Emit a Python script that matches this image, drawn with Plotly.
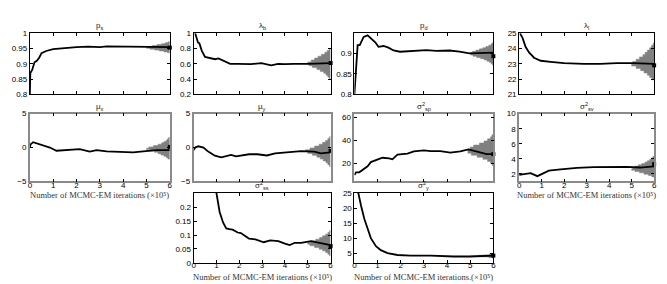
import numpy as np
import plotly.graph_objects as go

# ---------------- data ----------------
names = ["ps", "lb", "pd", "ll", "mux", "muy", "ssp", "ssv", "sss", "sy"]
titles = ["p<sub>s</sub>", "λ<sub>b</sub>", "p<sub>d</sub>", "λ<sub>l</sub>",
          "μ<sub>x</sub>", "μ<sub>y</sub>", "σ<sup>2</sup><sub>sp</sub>", "σ<sup>2</sup><sub>sv</sub>",
          "σ<sup>2</sup><sub>ss</sub>", "σ<sup>2</sup><sub>y</sub>"]

ps_x = [0, 0.02, 0.1, 0.2, 0.3, 0.4, 0.5, 0.7, 1.0, 1.5, 2.0, 2.5, 3.0, 3.3, 4.0, 4.5, 5.0, 5.5, 6.0]
ps_y = [0.80, 0.87, 0.88, 0.905, 0.91, 0.92, 0.935, 0.942, 0.948, 0.952, 0.955, 0.956, 0.955, 0.957, 0.956, 0.956, 0.956, 0.956, 0.955]

lb_x = [0.07, 0.19, 0.25, 0.36, 0.5, 0.72, 0.94, 1.09, 1.3, 1.6, 1.96, 2.5, 2.97, 3.4, 3.7, 4.0, 4.4, 5.0, 6.0]
lb_y = [1.0, 0.88, 0.87, 0.77, 0.69, 0.67, 0.66, 0.67, 0.64, 0.60, 0.60, 0.595, 0.61, 0.58, 0.60, 0.595, 0.60, 0.60, 0.61]

pd_x = [0, 0.14, 0.23, 0.4, 0.57, 0.76, 0.9, 1.04, 1.26, 1.47, 1.69, 1.97, 2.26, 2.69, 3.11, 3.54, 4.11, 4.54, 4.97, 6.0]
pd_y = [0.80, 0.92, 0.92, 0.94, 0.944, 0.935, 0.927, 0.916, 0.918, 0.914, 0.907, 0.904, 0.905, 0.906, 0.908, 0.906, 0.907, 0.904, 0.900, 0.902]

ll_x = [0.04, 0.15, 0.29, 0.44, 0.66, 0.96, 1.4, 1.99, 2.87, 3.6, 4.34, 5.07, 6.0]
ll_y = [25.0, 24.7, 24.1, 23.75, 23.4, 23.2, 23.13, 23.04, 23.0, 23.0, 23.05, 23.05, 23.0]

mux_x = [0, 0.03, 0.14, 0.29, 0.57, 0.86, 1.14, 1.43, 1.86, 2.14, 2.57, 2.86, 3.29, 3.86, 4.43, 4.86, 5.43, 6.0]
mux_y = [0.0, 0.47, 0.8, 0.62, 0.33, 0.0, -0.47, -0.38, -0.33, -0.24, -0.6, -0.38, -0.57, -0.6, -0.7, -0.57, -0.38, -0.38]

muy_x = [0, 0.07, 0.21, 0.43, 0.64, 0.93, 1.21, 1.43, 1.64, 1.86, 2.14, 2.43, 2.79, 3.21, 3.57, 4.14, 4.71, 5.29, 5.57, 6.0]
muy_y = [-0.38, 0.0, 0.19, 0.0, -0.6, -1.2, -1.45, -1.3, -1.08, -1.3, -1.1, -0.99, -0.99, -1.17, -0.85, -0.7, -0.52, -0.6, -0.85, -0.7]

ssp_x = [0, 0.07, 0.21, 0.36, 0.57, 0.71, 1.0, 1.21, 1.5, 1.64, 1.86, 2.29, 2.57, 3.0, 3.29, 3.71, 4.14, 4.57, 4.93, 5.29, 5.71, 6.0]
ssp_y = [9.6, 12, 12, 14, 17.3, 21, 22.8, 24.8, 24.2, 23.4, 27.5, 28.4, 30.4, 31.2, 30.7, 30.7, 29.3, 30.4, 32.1, 29.9, 28, 28]

ssv_x = [0, 0.22, 0.51, 0.81, 1.03, 1.32, 1.84, 2.57, 3.31, 4.04, 4.78, 5.37, 6.0]
ssv_y = [1.87, 2.0, 2.1, 1.7, 2.0, 2.43, 2.6, 2.8, 2.9, 2.94, 2.94, 2.85, 3.0]

sss_x = [0.9, 1.0, 1.14, 1.29, 1.43, 1.57, 1.71, 1.93, 2.07, 2.29, 2.43, 2.71, 3.07, 3.36, 3.71, 4.0, 4.21, 4.43, 4.71, 5.14, 5.57, 6.0]
sss_y = [0.30, 0.25, 0.183, 0.145, 0.124, 0.121, 0.119, 0.109, 0.107, 0.095, 0.087, 0.084, 0.074, 0.081, 0.078, 0.069, 0.064, 0.072, 0.072, 0.078, 0.072, 0.064]

sy_x = [0, 0.17, 0.29, 0.43, 0.57, 0.71, 0.93, 1.14, 1.43, 1.86, 2.43, 3.29, 4.29, 5.0, 6.0]
sy_y = [35, 25, 20.7, 16.4, 13.2, 10, 7.3, 6.0, 5.0, 4.4, 4.2, 4.2, 3.9, 3.9, 4.2]

# end-point estimates (marker at x = 6)
end_vals = [0.953, 0.61, 0.893, 22.9, 0.1, -0.47, 28, 3.3, 0.06, 4.2]

# posterior histograms: lowest bin edge, bin width, relative bar lengths
hist_lo = [0.936, 0.40, 0.872, 21.95, -1.7, -2.8, 18.0, 1.6, 0.025, 3.4]
hist_w = [0.003, 0.025, 0.003, 0.15, 0.2, 0.275, 1.8, 0.18, 0.006, 0.1]
hist_len = [
    [0.1, 0.25, 0.45, 0.65, 0.85, 1.0, 0.95, 0.75, 0.55, 0.35, 0.2, 0.08],
    [0.05, 0.12, 0.2, 0.3, 0.45, 0.6, 0.8, 0.95, 1.0, 0.85, 0.7, 0.55, 0.4, 0.25, 0.15, 0.06],
    [0.05, 0.1, 0.18, 0.28, 0.4, 0.55, 0.72, 0.88, 0.98, 1.0, 0.9, 0.75, 0.6, 0.45, 0.32, 0.2, 0.1, 0.05],
    [0.1, 0.2, 0.3, 0.45, 0.6, 0.8, 1.0, 0.95, 0.8, 0.65, 0.5, 0.4, 0.3, 0.2, 0.12, 0.05],
    [0.08, 0.15, 0.25, 0.38, 0.5, 0.65, 0.85, 1.0, 0.9, 0.7, 0.5, 0.35, 0.25, 0.15, 0.1, 0.05],
    [0.05, 0.12, 0.2, 0.32, 0.45, 0.6, 0.8, 1.0, 1.1, 0.9, 0.7, 0.5, 0.35, 0.22, 0.12, 0.05],
    [0.05, 0.12, 0.25, 0.45, 0.7, 0.95, 1.1, 1.1, 1.0, 0.85, 0.6, 0.4, 0.25, 0.12, 0.06],
    [0.1, 0.25, 0.45, 0.65, 0.85, 1.0, 0.95, 0.85, 0.7, 0.55, 0.4, 0.3, 0.2, 0.12, 0.06],
    [0.05, 0.12, 0.22, 0.35, 0.5, 0.7, 0.9, 1.0, 0.85, 0.65, 0.48, 0.35, 0.22, 0.12, 0.05],
    [0.05, 0.1, 0.2, 0.35, 0.55, 0.8, 1.0, 0.9, 0.65, 0.45, 0.3, 0.18, 0.1, 0.05],
]
hist_base = 6  # histograms hang leftwards from the last iteration

lines_x = [ps_x, lb_x, pd_x, ll_x, mux_x, muy_x, ssp_x, ssv_x, sss_x, sy_x]
lines_y = [ps_y, lb_y, pd_y, ll_y, mux_y, muy_y, ssp_y, ssv_y, sss_y, sy_y]

y_ranges = [[0.8, 1.0], [0.2, 1.0], [0.8, 0.949], [21, 25], [-5, 5], [-5, 5],
            [4, 63.5], [1, 10], [0, 0.251], [1.8, 25]]
y_ticks = [[0.8, 0.85, 0.9, 0.95, 1], [0.2, 0.4, 0.6, 0.8, 1], [0.8, 0.85, 0.9],
           [21, 22, 23, 24, 25], [-5, 0, 5], [-5, 0, 5], [20, 40, 60],
           [2, 4, 6, 8, 10], [0, 0.05, 0.1, 0.15, 0.2], [5, 10, 15, 20, 25]]
y_ticktext = [["0.8", "0.85", "0.9", "0.95", "1"], ["0.2", "0.4", "0.6", "0.8", "1"],
              ["0.8", "0.85", "0.9"], ["21", "22", "23", "24", "25"],
              ["−5", "0", "5"], ["−5", "0", "5"], ["20", "40", "60"],
              ["2", "4", "6", "8", "10"], ["0", "0.05", "0.1", "0.15", "0.2"],
              ["5", "10", "15", "20", "25"]]
x_ticks = [0, 1, 2, 3, 4, 5, 6]
x_label = "Number of MCMC-EM iterations (×10⁵)"
x_label_sy = "Number of MCMC-EM iterations.(×10⁵)"

# ---------------- layout geometry (pixels) ----------------
W, H = 667, 284
cols_px = [(20, 161), (185, 323), (347, 487), (513, 649)]
rows_px = [(22, 85), (105, 175), (187, 259)]
grid = [(0, 0), (0, 1), (0, 2), (0, 3), (1, 0), (1, 1), (1, 2), (1, 3), (2, 1), (2, 2)]
labeled = {"mux", "ssv", "sss", "sy"}

fig = go.Figure()
layout = dict(width=W, height=H, margin=dict(l=0, r=0, t=0, b=0),
              paper_bgcolor="white", plot_bgcolor="white", showlegend=False,
              annotations=[])

tickfont = dict(family="Liberation Sans, Arial, sans-serif", size=8, color="black")
serif = dict(family="Liberation Serif", size=8.5, color="#333")

for i, name in enumerate(names):
    r, c = grid[i]
    x0, x1 = cols_px[c]
    y0, y1 = rows_px[r]
    k = i + 1
    xa = "x" if k == 1 else f"x{k}"
    ya = "y" if k == 1 else f"y{k}"
    framecol = "#8a8a8a" if r == 1 else "black"
    framew = 1.6 if r == 1 else 1

    # stair-step outline of the horizontal histogram
    lo, w, lens = hist_lo[i], hist_w[i], hist_len[i]
    hx, hy = [hist_base], [lo]
    for j, v in enumerate(lens):
        hx += [hist_base - v, hist_base - v]
        hy += [lo + w * j, lo + w * (j + 1)]
    hx.append(hist_base)
    hy.append(lo + w * len(lens))
    fig.add_trace(go.Scatter(x=hx, y=hy, mode="lines", fill="toself",
                             fillcolor="#808080", line=dict(width=0.5, color="#808080"),
                             xaxis=xa, yaxis=ya, hoverinfo="skip"))
    fig.add_trace(go.Scatter(x=lines_x[i], y=lines_y[i], mode="lines",
                             line=dict(color="black", width=1.8),
                             xaxis=xa, yaxis=ya))
    fig.add_trace(go.Scatter(x=[6], y=[end_vals[i]], mode="markers",
                             marker=dict(symbol="square", size=4, color="black"),
                             cliponaxis=False, xaxis=xa, yaxis=ya))

    axbase = dict(showgrid=False, zeroline=False, ticks="inside", ticklen=3,
                  tickcolor="black", mirror="ticks", showline=True,
                  linecolor=framecol, linewidth=framew, tickfont=tickfont)
    layout["xaxis" if k == 1 else f"xaxis{k}"] = dict(
        axbase, domain=[x0 / W, x1 / W], range=[0, 6], tickvals=x_ticks,
        showticklabels=name in labeled, anchor=ya, ticklabelstandoff=-5)
    layout["yaxis" if k == 1 else f"yaxis{k}"] = dict(
        axbase, domain=[1 - y1 / H, 1 - y0 / H], range=y_ranges[i],
        tickvals=y_ticks[i], ticktext=y_ticktext[i], anchor=xa)

    layout["annotations"].append(dict(
        text=titles[i], x=(x0 + x1) / 2 / W, y=1 - y0 / H, xref="paper", yref="paper",
        xanchor="center", yanchor="bottom", showarrow=False, yshift=0,
        font=dict(family="Liberation Sans, Arial, sans-serif", size=8, color="#222")))
    if name in labeled:
        layout["annotations"].append(dict(
            text=x_label_sy if name == "sy" else x_label,
            x=(x0 + x1) / 2 / W, y=1 - y1 / H, xref="paper", yref="paper",
            xanchor="center", yanchor="top", yshift=-7, showarrow=False, font=serif))

fig.update_layout(**layout)
fig.write_html("out.html")
